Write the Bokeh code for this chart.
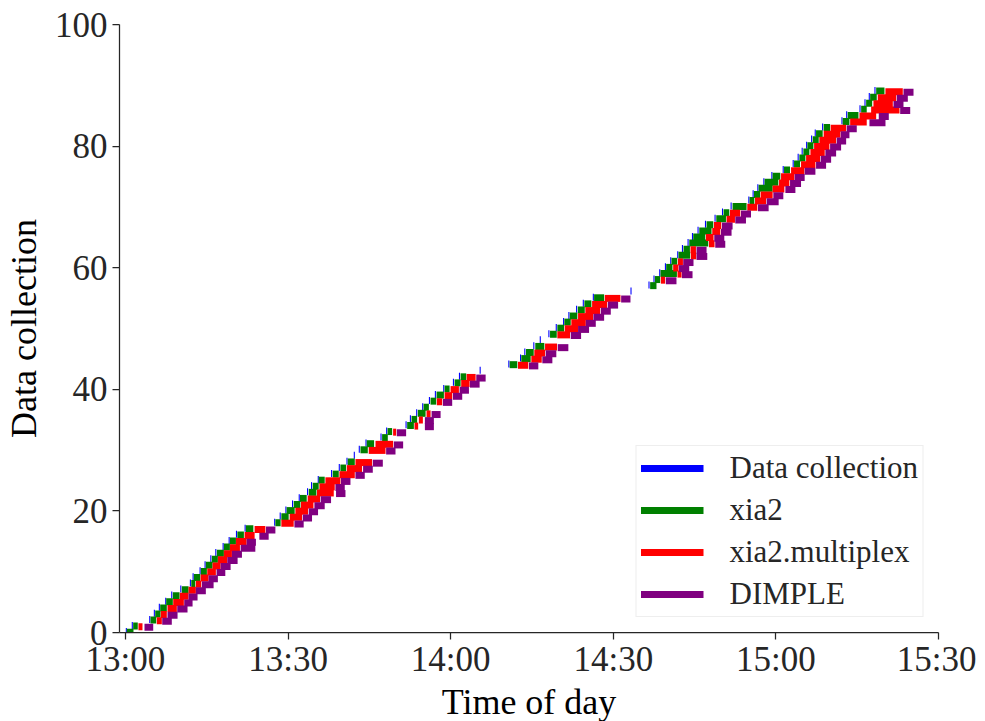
from bokeh.plotting import figure
from bokeh.models import ColumnDataSource, FixedTicker, Range1d, Legend, LegendItem
from bokeh.embed import file_html
from bokeh.resources import INLINE

# Times are minutes after 13:00, one entry per data collection (row index = position)
dc_start = [0.06,1.16,4.38,5.23,6.15,7.33,8.44,10.11,11.88,12.38,13.67,14.59,15.65,16.57,17.92,19.03,20.38,21.98,
            27.43,28.45,29.50,30.72,31.96,33.49,34.23,35.47,37.93,39.35,40.77,42.12,43.04,44.28,47.05,48.09,51.67,52.47,
            53.63,54.74,55.98,57.08,58.62,60.41,61.52,65.34,
            70.63,72.79,73.58,75.24,76.43,78.02,79.38,80.73,81.71,83.13,84.37,86.22,93.17,
            96.49,97.41,98.47,99.52,100.50,101.79,102.66,103.70,104.51,105.54,106.91,108.68,110.05,111.64,114.91,115.70,
            116.57,117.68,119.16,121.25,123.09,124.01,124.75,125.57,126.49,127.16,128.52,132.09,132.96,135.42,136.34,137.13,138.18]
dc_end = [0.26,1.36,4.58,5.43,6.35,7.53,8.64,10.31,12.08,12.58,13.87,14.79,15.85,16.77,18.12,19.23,20.58,22.18,
          27.63,28.65,29.70,30.92,32.16,33.69,34.43,35.67,38.13,39.55,40.97,42.32,43.24,44.48,47.25,48.29,51.87,52.67,
          53.83,54.94,56.18,57.28,58.82,60.61,61.72,65.54,
          70.83,72.99,73.78,75.44,76.63,78.22,79.58,80.93,81.91,83.33,84.57,86.42,93.37,
          96.69,97.61,98.67,99.72,100.70,101.99,102.86,103.90,104.71,105.74,107.11,108.88,110.25,111.84,115.11,115.90,
          116.77,117.88,119.36,121.45,123.29,124.21,124.95,125.77,126.69,127.36,128.72,132.29,133.16,135.62,136.54,137.33,138.38]

xia2_start = [0.24,1.42,4.62,5.49,6.41,7.52,8.74,10.40,12.14,12.62,13.91,14.83,15.94,16.87,18.16,19.27,20.64,22.22,
              27.66,28.76,29.74,31.04,32.20,33.81,34.55,35.65,38.24,39.66,41.01,None,43.36,44.52,47.35,48.35,51.97,52.78,
              53.94,55.00,56.29,57.40,58.88,60.72,61.83,None,
              70.89,73.03,73.90,75.61,None,78.33,79.68,80.97,81.97,83.45,84.67,86.46,None,
              96.80,97.67,98.71,99.76,100.74,102.03,102.96,104.01,104.75,105.86,107.21,109.00,110.35,112.01,115.15,115.96,
              116.81,117.92,119.40,121.50,123.35,124.33,125.07,125.81,126.79,127.41,128.82,132.33,133.25,135.73,136.65,137.39,138.50]
xia2_end = [1.48,2.27,5.67,6.47,7.63,8.74,9.98,11.64,12.88,13.80,15.02,16.07,17.05,18.16,19.27,20.38,21.85,23.59,
            28.63,30.11,31.22,32.27,33.44,35.23,35.65,36.76,39.35,40.70,42.31,None,44.71,45.87,48.40,49.20,53.21,53.81,
            55.37,55.98,57.33,58.75,59.80,61.83,62.87,None,
            72.29,74.76,75.32,77.28,None,79.57,80.92,82.15,83.37,84.74,85.96,88.31,None,
            97.97,98.65,101.74,100.92,101.79,104.19,104.14,107.52,106.97,108.13,108.44,110.79,111.40,114.59,116.02,117.07,
            119.40,120.45,120.82,122.61,124.46,125.44,126.18,126.92,127.90,128.63,130.00,133.57,135.23,136.76,137.76,138.61,140.03]

mp_start = [None,2.40,5.78,6.52,7.76,8.81,10.03,11.64,12.99,13.86,15.09,16.07,17.05,18.16,19.27,20.38,21.98,23.83,
            28.76,30.30,31.35,32.38,33.62,35.34,35.78,36.89,39.48,40.83,42.43,None,44.89,46.13,None,49.38,53.33,54.13,
            55.55,None,57.45,58.88,59.98,61.94,62.94,None,
            72.42,74.88,75.43,77.41,None,79.68,81.04,82.26,83.50,84.85,86.09,88.43,None,
            None,98.78,101.85,101.05,101.92,104.32,104.25,107.65,107.09,108.26,108.57,110.90,111.53,114.72,116.15,117.18,
            119.40,120.58,120.95,122.80,124.64,125.57,126.37,127.05,128.02,128.82,130.11,133.70,135.42,137.57,138.00,138.80,140.21]
mp_end = [None,3.14,6.71,7.63,9.48,10.77,11.64,12.99,13.98,15.33,16.68,17.55,18.79,19.64,21.12,22.35,23.83,25.81,
          31.04,32.57,33.68,34.68,35.90,38.43,38.61,39.66,42.31,43.65,45.50,None,47.98,49.38,None,49.94,54.00,54.87,
          56.29,None,58.43,60.28,61.52,63.49,64.60,None,
          74.32,76.80,77.41,79.62,None,82.02,83.50,84.93,86.27,87.57,88.86,91.32,None,
          None,99.57,102.59,102.03,102.85,105.30,105.25,108.68,108.50,109.74,109.92,112.45,113.43,116.57,118.18,119.40,
          121.56,122.48,123.41,125.25,127.29,128.16,129.01,129.87,131.11,131.90,132.96,136.76,138.50,142.80,141.57,142.20,143.41]

dimple_start = [None,3.51,6.78,7.76,9.55,10.84,11.64,12.99,14.10,15.33,16.81,17.55,18.79,19.64,21.25,22.35,24.70,25.92,
                31.17,32.70,33.81,34.86,36.02,38.85,38.74,39.77,42.43,43.84,45.63,None,48.09,49.51,None,50.06,55.24,55.24,
                56.48,None,58.56,60.41,61.65,63.55,64.72,None,
                74.45,76.91,77.53,79.75,None,82.15,83.50,84.93,86.33,87.70,88.99,91.45,None,
                None,99.70,102.66,102.10,102.90,105.36,105.36,108.81,108.63,109.87,110.05,112.51,113.56,116.70,118.29,119.53,
                121.75,122.61,123.46,125.31,127.41,128.27,129.13,130.00,131.22,131.96,133.07,137.26,138.98,142.93,141.70,142.31,143.54]
dimple_end = [None,5.12,8.55,9.61,11.45,12.38,13.30,14.83,16.26,17.05,18.42,19.40,20.69,21.49,23.96,24.07,26.42,27.66,
              32.88,34.42,35.53,36.76,37.93,40.59,40.46,41.51,44.15,45.63,47.48,None,49.82,51.23,None,51.78,56.90,56.90,
              58.14,None,60.28,62.13,63.37,65.34,66.45,None,
              76.17,78.76,79.49,81.71,None,84.06,85.53,86.77,88.31,89.54,90.89,93.17,None,
              None,101.66,104.62,104.01,104.80,107.34,107.21,110.66,110.48,111.82,112.01,114.48,115.41,118.66,120.51,121.37,
              123.60,124.64,125.31,127.29,129.26,130.19,131.11,132.03,132.96,133.57,134.92,140.22,140.83,144.78,143.54,144.34,145.39]

x_ticks = [0, 30, 60, 90, 120, 150]
x_tick_labels = ["13:00", "13:30", "14:00", "14:30", "15:00", "15:30"]
y_ticks = [0, 20, 40, 60, 80, 100]

stages = [
    ("Data collection", dc_start, dc_end, "#0000ff", 0.15),
    ("xia2", xia2_start, xia2_end, "#008000", 0.05),
    ("xia2.multiplex", mp_start, mp_end, "#ff0000", -0.05),
    ("DIMPLE", dimple_start, dimple_end, "#800080", -0.15),
]

FONT = "Liberation Serif"
TXT = "#262626"

p = figure(frame_width=819, frame_height=608, output_backend="svg", toolbar_location=None,
           x_range=Range1d(-1.1, 150), y_range=Range1d(0, 100),
           min_border_left=117, min_border_right=38, min_border_top=24, min_border_bottom=81)
p.outline_line_color = None
p.xgrid.visible = False
p.ygrid.visible = False
p.background_fill_color = "white"
p.border_fill_color = "white"

items = []
for name, s, e, color, dy in stages:
    xs0, xs1, ys = [], [], []
    for i, (a, b) in enumerate(zip(s, e)):
        if a is None or b is None:
            continue
        xs0.append(a); xs1.append(b); ys.append(i + dy)
    src = ColumnDataSource(dict(x0=xs0, x1=xs1, y=ys))
    r = p.segment(x0="x0", y0="y", x1="x1", y1="y", source=src, line_color=color,
                  line_width=7, line_cap="butt")
    items.append(LegendItem(label=name, renderers=[r]))

legend = Legend(items=items, location="bottom_right")
legend.label_text_font = FONT
legend.label_text_font_size = "31px"
legend.label_text_color = TXT
legend.glyph_width = 63
legend.glyph_height = 30
legend.label_height = 30
legend.label_standoff = 26
legend.spacing = 6
legend.padding = 4
legend.margin = 15
legend.border_line_color = "#dddddd"
legend.border_line_width = 1.5
legend.background_fill_alpha = 0.9
p.add_layout(legend)

for ax in (p.xaxis[0], p.yaxis[0]):
    ax.axis_line_color = TXT
    ax.axis_line_width = 1.25
    ax.major_tick_line_color = TXT
    ax.major_tick_line_width = 1.25
    ax.major_tick_out = 7
    ax.major_tick_in = 0
    ax.minor_tick_line_color = None
    ax.major_label_text_font = FONT
    ax.major_label_text_font_size = "35px"
    ax.major_label_text_color = TXT
    ax.axis_label_text_font = FONT
    ax.axis_label_text_font_size = "36px"
    ax.axis_label_text_font_style = "normal"
    ax.axis_label_text_color = "black"

p.xaxis.ticker = FixedTicker(ticks=x_ticks)
p.xaxis.major_label_overrides = {t: l for t, l in zip(x_ticks, x_tick_labels)}
p.yaxis.ticker = FixedTicker(ticks=y_ticks)
p.xaxis.axis_label = "Time of day"
p.yaxis.axis_label = "Data collection"
p.xaxis.axis_label_standoff = 0
p.yaxis.axis_label_standoff = 8
p.xaxis.major_label_standoff = 0
p.yaxis.major_label_standoff = 5

open("out.html", "w").write(file_html(p, INLINE))
